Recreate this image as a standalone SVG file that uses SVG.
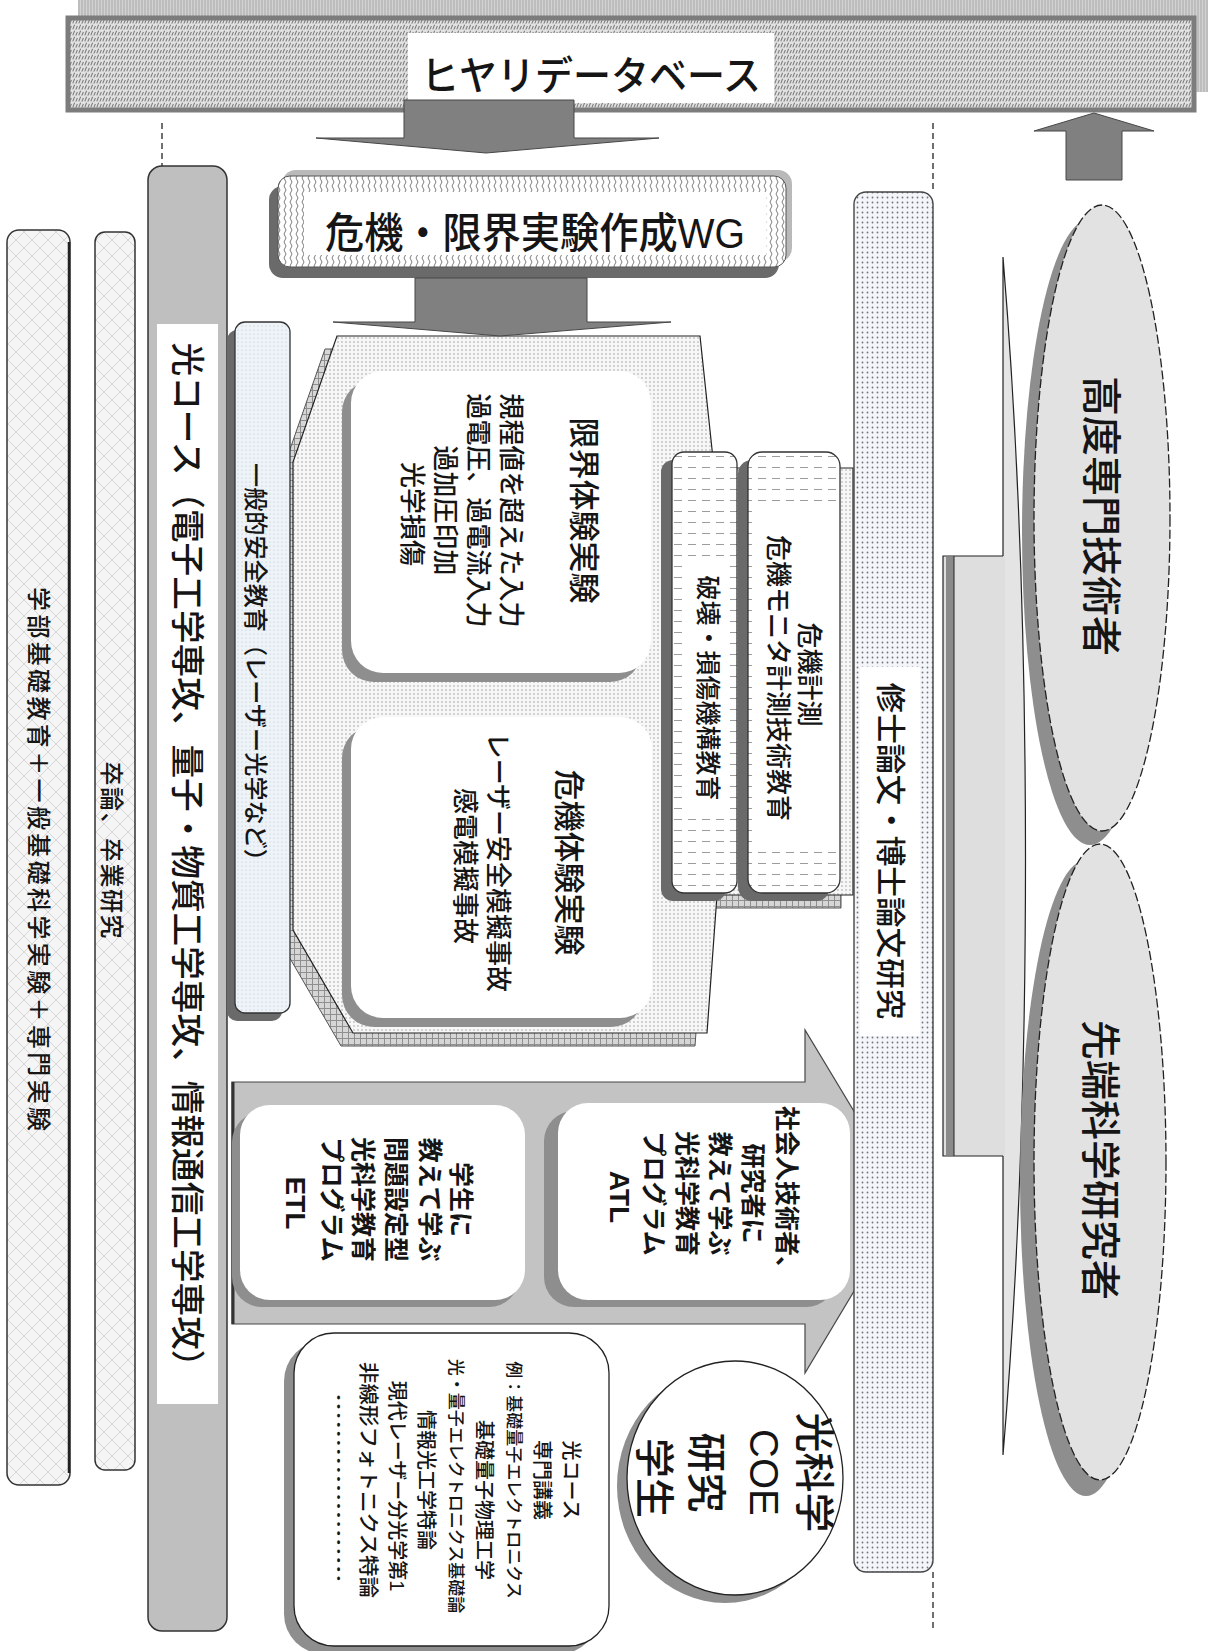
<svg xmlns="http://www.w3.org/2000/svg" width="1208" height="1651" viewBox="0 0 1208 1651">
<defs>
<style>
.t{font-family:"Liberation Sans","Noto Sans CJK JP",sans-serif;fill:#151515;font-weight:500}
.c{text-anchor:middle;dominant-baseline:central}
.b{font-weight:bold}
.dash{stroke:#333;stroke-width:1.4;stroke-dasharray:6 4;fill:none}
.arr{fill:#808080;stroke:#474747;stroke-width:1}
.sh{fill:#8e8e8e}
.shd{fill:#6a6a6a}
.white{fill:#fff}
</style>
<pattern id="pTex" width="6" height="6" patternUnits="userSpaceOnUse"><rect width="6" height="6" fill="#e2e2e2"/><path d="M0.8,5.4 L2.6,0.8 M3.8,5.6 L5.4,2" stroke="#7c7c7c" stroke-width="1.1"/></pattern>
<pattern id="pShTex" width="3" height="6" patternUnits="userSpaceOnUse"><rect width="3" height="6" fill="#d2d2d2"/><path d="M1,0V6" stroke="#a8a8a8" stroke-width="1"/></pattern>
<pattern id="pDots" width="5" height="5" patternUnits="userSpaceOnUse"><rect width="5" height="5" fill="#f3f5f9"/><circle cx="2.5" cy="2.5" r="0.9" fill="#6f7480"/></pattern>
<pattern id="pDotsBlk" width="4" height="4" patternUnits="userSpaceOnUse"><rect width="4" height="4" fill="#f7f7f7"/><circle cx="2" cy="2" r="0.75" fill="#9a9a9a"/></pattern>
<pattern id="pDotsB" width="4" height="4" patternUnits="userSpaceOnUse"><rect width="4" height="4" fill="#eef3f8"/><circle cx="2" cy="2" r="0.6" fill="#b5c0cc"/></pattern>
<pattern id="pCheck" width="6" height="6" patternUnits="userSpaceOnUse"><rect width="6" height="6" fill="#d6d6d6"/><path d="M0,0.5H6M0.5,0V6" stroke="#8f8f8f" stroke-width="1"/></pattern>
<pattern id="pHatch" width="16" height="16" patternUnits="userSpaceOnUse"><rect width="16" height="16" fill="#f5f5f5"/><path d="M0,0L16,16M16,0L0,16" stroke="#d6d6d6" stroke-width="1"/></pattern>
<pattern id="pHdash" width="14" height="11" patternUnits="userSpaceOnUse"><rect width="14" height="11" fill="#fff"/><path d="M2,5.5H10" stroke="#9c9c9c" stroke-width="1"/></pattern>
<pattern id="pWavy" width="6" height="8" patternUnits="userSpaceOnUse"><rect width="6" height="8" fill="#fff"/><path d="M3,0 Q1,2 3,4 Q5,6 3,8" fill="none" stroke="#7d7d7d" stroke-width="1"/></pattern>
</defs>
<rect width="1208" height="1651" fill="#fff"/>

<!-- background shapes -->
<g id="growth-arrow">
  <path d="M1003,257 C1033,620 1033,1100 1003,1455 Z" fill="#e4e4e4" stroke="#222" stroke-width="1.2"/>
  <rect x="943" y="556" width="62" height="600" fill="#dedede"/>
  <path d="M1003,556 H943 V1156 H1003" fill="none" stroke="#222" stroke-width="1.2"/>
  <rect x="946" y="557" width="8" height="598" fill="#8a8a8a"/>
  <line x1="954" y1="556" x2="954" y2="1156" stroke="#222" stroke-width="1"/>
</g>

<g id="program-arrow">
  <polygon points="232,1082 805,1082 805,1030 908,1201 805,1373 805,1324 232,1324" fill="#c3c3c3" stroke="#474747" stroke-width="1.2"/>
  <line x1="233" y1="1082" x2="233" y2="1324" stroke="#333" stroke-width="3"/>
</g>

<!-- left bars -->
<g id="gakubu">
  <rect x="7" y="230" width="63" height="1255" rx="12" fill="url(#pHatch)" stroke="#333" stroke-width="1.5"/>
  <line x1="69" y1="242" x2="69" y2="1473" stroke="#222" stroke-width="2.5"/>
  <g transform="translate(38,859) rotate(90)"><text class="t c" font-size="24" textLength="544" lengthAdjust="spacing">学部基礎教育＋一般基礎科学実験＋専門実験</text></g>
</g>
<g id="sotsuron">
  <rect x="95" y="232" width="40" height="1238" rx="10" fill="url(#pHatch)" stroke="#333" stroke-width="1.5"/>
  <g transform="translate(111,850) rotate(90)"><text class="t c" font-size="24" textLength="177" lengthAdjust="spacing">卒論、卒業研究</text></g>
</g>
<g id="hikari-course">
  <rect x="148" y="166" width="79" height="1465" rx="14" fill="#bfbfbf" stroke="#333" stroke-width="1.5"/>
  <rect x="157" y="324" width="61" height="1080" class="white"/>
  <g transform="translate(187,863) rotate(90)"><text class="t c" font-size="34" textLength="1041" lengthAdjust="spacingAndGlyphs">光コース（電子工学専攻、量子・物質工学専攻、情報通信工学専攻）</text></g>
</g>

<!-- central experiment block -->
<g id="experiment-block">
  <path d="M325,349 L688,349 L702,481 L841,481 L841,908 L705,908 L695,1046 L341,1046 L281,943 L281,475 Z" fill="url(#pCheck)" stroke="#555" stroke-width="1"/>
  <path d="M337,336 L700,336 L714,468 L853,468 L853,895 L717,895 L707,1033 L353,1033 L293,930 L293,462 Z" fill="url(#pDotsBlk)" stroke="#222" stroke-width="1.2"/>
</g>

<g id="general-safety">
  <rect x="227" y="330" width="55" height="691" rx="10" class="shd"/>
  <rect x="235" y="322" width="55" height="691" rx="10" fill="url(#pDotsB)" stroke="#333" stroke-width="1.3"/>
  <g transform="translate(255,668) rotate(90)"><text class="t c" font-size="24" textLength="410" lengthAdjust="spacingAndGlyphs">一般的安全教育（レーザー光学など）</text></g>
</g>

<g id="limit-experiment">
  <rect x="342" y="380" width="300" height="302" rx="32" class="sh"/>
  <rect x="351" y="371" width="300" height="302" rx="32" class="white"/>
  <g transform="translate(500,514) rotate(90)"><text class="t c" font-size="26">
    <tspan x="0" y="-84" font-size="31">限界体験実験</tspan>
    <tspan x="0" y="-11">規程値を超えた入力</tspan>
    <tspan x="0" y="22">過電圧、過電流入力</tspan>
    <tspan x="0" y="55">過加圧印加</tspan>
    <tspan x="0" y="88">光学損傷</tspan>
  </text></g>
</g>

<g id="crisis-experiment">
  <rect x="342" y="726" width="301" height="301" rx="32" class="sh"/>
  <rect x="351" y="717" width="301" height="301" rx="32" class="white"/>
  <g transform="translate(520,866) rotate(90)"><text class="t c" font-size="26">
    <tspan x="0" y="-49" font-size="31">危機体験実験</tspan>
    <tspan x="0" y="22">レーザー安全模擬事故</tspan>
    <tspan x="0" y="55">感電模擬事故</tspan>
  </text></g>
</g>

<g id="destruction-education">
  <rect x="661" y="460" width="65" height="441" rx="12" class="shd"/>
  <rect x="672" y="452" width="65" height="441" rx="12" fill="url(#pHdash)" stroke="#333" stroke-width="1.3"/>
  <rect x="685" y="565" width="40" height="250" class="white"/>
  <g transform="translate(708,688) rotate(90)"><text class="t c" font-size="25">破壊・損傷機構教育</text></g>
</g>

<g id="crisis-measurement">
  <rect x="738" y="460" width="92" height="441" rx="14" class="shd"/>
  <rect x="748" y="452" width="92" height="441" rx="14" fill="url(#pHdash)" stroke="#333" stroke-width="1.3"/>
  <rect x="752" y="508" width="86" height="343" class="white"/>
  <g transform="translate(794,678) rotate(90)"><text class="t c" font-size="26">
    <tspan x="0" y="-15">危機計測</tspan>
    <tspan x="0" y="16">危機モニタ計測技術教育</tspan>
  </text></g>
</g>

<g id="thesis-research">
  <rect x="854" y="192" width="79" height="1380" rx="12" fill="url(#pDots)" stroke="#444" stroke-width="1.4"/>
  <rect x="860" y="667" width="60" height="369" class="white"/>
  <g transform="translate(890,851) rotate(90)"><text class="t c" font-size="30" textLength="337" lengthAdjust="spacingAndGlyphs">修士論文・博士論文研究</text></g>
</g>

<g id="etl-program">
  <rect x="232" y="1112" width="287" height="195" rx="30" class="sh"/>
  <rect x="240" y="1105" width="285" height="195" rx="30" class="white"/>
  <g transform="translate(380,1203) rotate(90)"><text class="t c b" font-size="25">
    <tspan x="0" y="-81">学生に</tspan>
    <tspan x="0" y="-50">教えて学ぶ</tspan>
    <tspan x="0" y="-16">問題設定型</tspan>
    <tspan x="0" y="17">光科学教育</tspan>
    <tspan x="0" y="48">プログラム</tspan>
    <tspan x="0" y="84" font-size="28">ETL</tspan>
  </text></g>
</g>

<g id="atl-program">
  <rect x="544" y="1111" width="292" height="196" rx="30" class="sh"/>
  <rect x="558" y="1103" width="292" height="197" rx="30" class="white"/>
  <g transform="translate(700,1197) rotate(90)"><text class="t c b" font-size="25">
    <tspan x="0" y="-87">社会人技術者、</tspan>
    <tspan x="0" y="-53">研究者に</tspan>
    <tspan x="0" y="-20">教えて学ぶ</tspan>
    <tspan x="0" y="13">光科学教育</tspan>
    <tspan x="0" y="46">プログラム</tspan>
    <tspan x="0" y="80" font-size="28">ATL</tspan>
  </text></g>
</g>

<g id="coe-students">
  <ellipse cx="725" cy="1486" rx="108" ry="117" class="sh"/>
  <ellipse cx="735" cy="1478" rx="108" ry="117" fill="#fff" stroke="#222" stroke-width="1.3"/>
  <g transform="translate(735,1478) rotate(90)"><text class="t c" font-size="40">
    <tspan x="0" y="-79">光科学</tspan>
    <tspan x="0" y="-29">COE</tspan>
    <tspan x="0" y="29">研究</tspan>
    <tspan x="0" y="81">学生</tspan>
  </text></g>
</g>

<g id="course-lectures">
  <rect x="284" y="1341" width="315" height="313" rx="40" class="sh"/>
  <rect x="294" y="1333" width="315" height="313" rx="40" fill="#fff" stroke="#222" stroke-width="1.3"/>
  <g transform="translate(455,1480) rotate(90)">
    <text class="t c" font-size="20" x="0" y="-116">光コース</text>
    <text class="t c" font-size="20" x="0" y="-87">専門講義</text>
    <text class="t c" font-size="17" x="0" y="-58">例：基礎量子エレクトロニクス</text>
    <text class="t c" font-size="20" x="20" y="-29">基礎量子物理工学</text>
    <text class="t c" font-size="17" x="6" y="0">光・量子エレクトロニクス基礎論</text>
    <text class="t c" font-size="20" x="0" y="29">情報光工学特論</text>
    <text class="t c" font-size="20" x="6" y="58">現代レーザー分光学第1</text>
    <text class="t c" font-size="20" x="0" y="87" textLength="236" lengthAdjust="spacingAndGlyphs">非線形フォトニクス特論</text>
    <text class="t c" font-size="20" x="8" y="116" textLength="190" lengthAdjust="spacingAndGlyphs" style="font-family:'Noto Sans CJK JP',sans-serif">…………………</text>
  </g>
</g>

<g id="advanced-engineers">
  <ellipse cx="1090" cy="532" rx="68" ry="313" class="sh"/>
  <ellipse cx="1102" cy="518" rx="68" ry="313" fill="#e2e2e2" stroke="#222" stroke-width="1.3" stroke-dasharray="9 3"/>
  <g transform="translate(1101,516) rotate(90)"><text class="t c" font-size="40">高度専門技術者</text></g>
</g>

<g id="advanced-researchers">
  <ellipse cx="1086" cy="1178" rx="66" ry="318" class="sh"/>
  <ellipse cx="1100" cy="1162" rx="66" ry="318" fill="#e2e2e2" stroke="#222" stroke-width="1.3" stroke-dasharray="9 3"/>
  <g transform="translate(1100,1160) rotate(90)"><text class="t c" font-size="40">先端科学研究者</text></g>
</g>

<g id="wg">
  <rect x="282" y="170" width="510" height="92" rx="14" fill="#b9b9b9"/>
  <rect x="269" y="186" width="510" height="92" rx="14" class="shd"/>
  <rect x="278" y="176" width="508" height="91" rx="12" fill="url(#pWavy)" stroke="#555" stroke-width="1"/>
  <rect x="304" y="192" width="462" height="63" class="white"/>
  <text class="t" x="535" y="248" font-size="42" text-anchor="middle" textLength="420" lengthAdjust="spacingAndGlyphs">危機・限界実験作成WG</text>
</g>

<g id="hiyari-db">
  <rect x="78" y="0" width="1130" height="92" fill="url(#pShTex)"/>
  <rect x="68" y="18" width="1126" height="92" fill="url(#pTex)" stroke="#7c7c7c" stroke-width="5"/>
  <rect x="408" y="33" width="366" height="70" class="white"/>
  <text class="t" x="591" y="90" font-size="40" text-anchor="middle" textLength="340" lengthAdjust="spacingAndGlyphs">ヒヤリデータベース</text>
</g>

<g id="connectors">
  <line class="dash" x1="162" y1="123" x2="162" y2="166"/>
  <line class="dash" x1="933" y1="123" x2="933" y2="192"/>
  <line class="dash" x1="933" y1="1572" x2="933" y2="1632"/>
  <polygon id="arrow-db-to-wg" class="arr" points="404,100 574,100 574,138 659,138 486,153 316,138 404,138"/>
  <polygon id="arrow-wg-to-block" class="arr" points="415,278 587,278 587,322 671,322 500,336 333,322 415,322"/>
  <polygon id="arrow-up-to-db" class="arr" points="1094,113 1154,131 1122,131 1122,180 1066,180 1066,131 1034,131"/>
</g>
</svg>
